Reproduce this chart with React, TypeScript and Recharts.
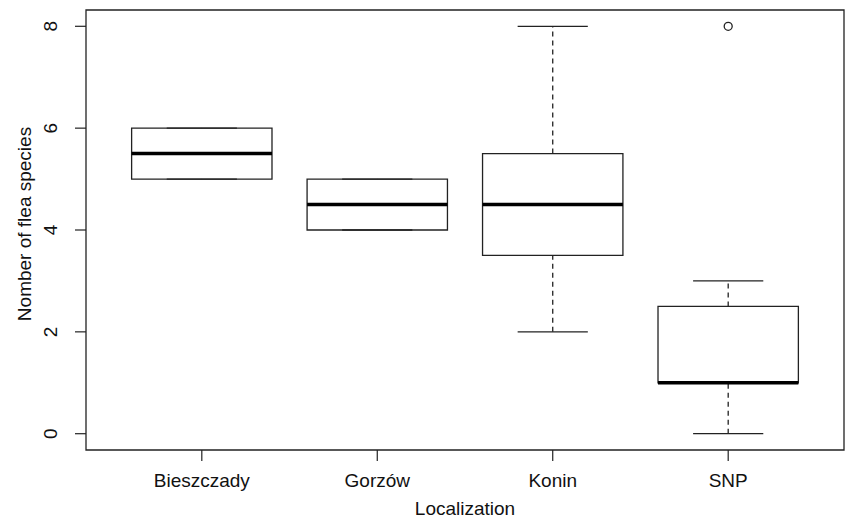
import React from "react";
import {
  ComposedChart,
  XAxis,
  YAxis,
  ReferenceArea,
  ReferenceLine,
  Scatter,
} from "recharts";

// boxplot stats per site
const categories = ["Bieszczady", "Gorzów", "Konin", "SNP"];
const lowerWhisker = [5, 4, 2, 0];
const q1 = [5, 4, 3.5, 1];
const medians = [5.5, 4.5, 4.5, 1];
const q3 = [6, 5, 5.5, 2.5];
const upperWhisker = [6, 5, 8, 3];
const outliers = [[], [], [], [8]];
const yTicks = [0, 2, 4, 6, 8];

const LINE = "#222";
const FONT = "'Liberation Sans', Arial, sans-serif";
const FS = 19;
const BOX_HALF = 0.4;
const CAP_HALF = 0.2;

const outlierPoints = outliers.flatMap((vals, i) =>
  vals.map((v) => ({ x: i + 1, y: v }))
);

const XTick = (props: any) => {
  const { x, y, payload } = props;
  return (
    <text x={x} y={y} dy={24} textAnchor="middle" fill="#111" fontSize={FS} fontFamily={FONT}>
      {categories[payload.value - 1]}
    </text>
  );
};

const YTick = (props: any) => {
  const { y, payload } = props;
  const bx = 57;
  return (
    <text
      x={bx}
      y={y}
      transform={`rotate(-90, ${bx}, ${y})`}
      textAnchor="middle"
      fill="#111"
      fontSize={FS}
      fontFamily={FONT}
    >
      {payload.value}
    </text>
  );
};

export default function App() {
  return (
    <div style={{ position: "absolute", left: 0, top: 0, background: "#fff" }}>
      <ComposedChart
        width={846}
        height={518}
        margin={{ top: 10, right: 2, bottom: 0, left: 0 }}
      >
        <XAxis
          type="number"
          dataKey="x"
          domain={[0.34, 4.66]}
          allowDataOverflow
          ticks={[1, 2, 3, 4]}
          tick={<XTick />}
          tickSize={11}
          tickLine={{ stroke: LINE, strokeWidth: 1.2 }}
          axisLine={false}
          height={68}
          label={{
            content: () => (
              <text x={465} y={515} textAnchor="middle" fill="#111" fontSize={FS} fontFamily={FONT}>
                Localization
              </text>
            ),
          }}
        />
        <YAxis
          type="number"
          dataKey="y"
          domain={[-0.32, 8.32]}
          allowDataOverflow
          ticks={yTicks}
          tick={<YTick />}
          tickSize={11}
          tickLine={{ stroke: LINE, strokeWidth: 1.2 }}
          axisLine={false}
          width={86}
          label={{
            content: () => (
              <text
                x={31}
                y={224}
                transform="rotate(-90, 31, 224)"
                textAnchor="middle"
                fill="#111"
                fontSize={FS}
                fontFamily={FONT}
              >
                Nomber of flea species
              </text>
            ),
          }}
        />

        {/* whiskers */}
        {categories.map((c, i) => (
          <ReferenceLine
            key={`wl-${c}`}
            segment={[
              { x: i + 1, y: lowerWhisker[i] },
              { x: i + 1, y: q1[i] },
            ]}
            stroke={LINE}
            strokeWidth={1.3}
            strokeDasharray="5 4"
            ifOverflow="visible"
          />
        ))}
        {categories.map((c, i) => (
          <ReferenceLine
            key={`wu-${c}`}
            segment={[
              { x: i + 1, y: q3[i] },
              { x: i + 1, y: upperWhisker[i] },
            ]}
            stroke={LINE}
            strokeWidth={1.3}
            strokeDasharray="5 4"
            ifOverflow="visible"
          />
        ))}
        {/* caps */}
        {categories.map((c, i) => (
          <ReferenceLine
            key={`cl-${c}`}
            segment={[
              { x: i + 1 - CAP_HALF, y: lowerWhisker[i] },
              { x: i + 1 + CAP_HALF, y: lowerWhisker[i] },
            ]}
            stroke={LINE}
            strokeWidth={1.3}
            ifOverflow="visible"
          />
        ))}
        {categories.map((c, i) => (
          <ReferenceLine
            key={`cu-${c}`}
            segment={[
              { x: i + 1 - CAP_HALF, y: upperWhisker[i] },
              { x: i + 1 + CAP_HALF, y: upperWhisker[i] },
            ]}
            stroke={LINE}
            strokeWidth={1.3}
            ifOverflow="visible"
          />
        ))}
        {/* boxes */}
        {categories.map((c, i) => (
          <ReferenceArea
            key={`box-${c}`}
            x1={i + 1 - BOX_HALF}
            x2={i + 1 + BOX_HALF}
            y1={q1[i]}
            y2={q3[i]}
            fill="#fff"
            fillOpacity={1}
            stroke={LINE}
            strokeWidth={1.3}
            ifOverflow="visible"
          />
        ))}
        {/* medians */}
        {categories.map((c, i) => (
          <ReferenceLine
            key={`med-${c}`}
            segment={[
              { x: i + 1 - BOX_HALF, y: medians[i] },
              { x: i + 1 + BOX_HALF, y: medians[i] },
            ]}
            stroke="#000"
            strokeWidth={3.5}
            ifOverflow="visible"
          />
        ))}

        <Scatter
          data={outlierPoints}
          isAnimationActive={false}
          shape={(p: any) => (
            <circle cx={p.cx} cy={p.cy} r={4} fill="none" stroke={LINE} strokeWidth={1.3} />
          )}
        />

        {/* plot frame */}
        <ReferenceArea
          x1={0.34}
          x2={4.66}
          y1={-0.32}
          y2={8.32}
          fill="none"
          stroke={LINE}
          strokeWidth={1.3}
          ifOverflow="visible"
        />
      </ComposedChart>
    </div>
  );
}
